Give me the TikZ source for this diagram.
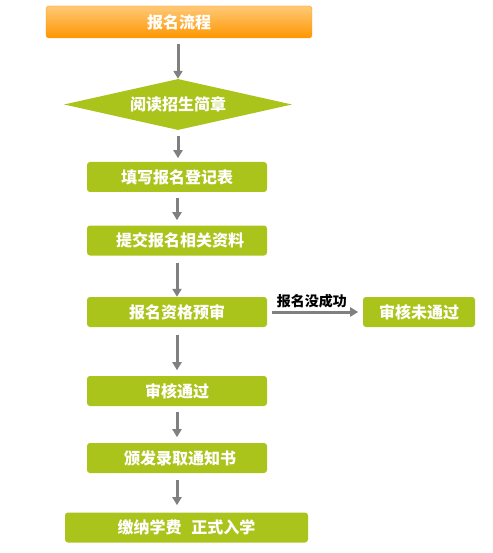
\documentclass[tikz,border=0pt]{standalone}
\usepackage{fontspec}
\newfontfamily\cjk{Noto Sans CJK SC}
\usetikzlibrary{arrows.meta, shapes.geometric}

\definecolor{stepgreen}{HTML}{AAC41C}
\definecolor{toporange}{HTML}{FFC978}
\definecolor{botorange}{HTML}{FF9600}
\definecolor{arrgray}{HTML}{808080}

\begin{document}
\begin{tikzpicture}[
  x=1pt, y=1pt,
  font=\cjk\fontsize{16}{18}\selectfont\bfseries,
  titlebox/.style={draw=botorange, rounded corners=3pt, top color=toporange, bottom color=botorange,
    text=white, minimum width=266pt, minimum height=32pt, inner sep=0pt},
  stepbox/.style={rounded corners=3pt, fill=stepgreen, text=white,
    minimum width=180pt, minimum height=30pt, inner sep=0pt},
  readbox/.style={shape=diamond, fill=stepgreen, text=white, aspect=4.47,
    minimum width=228pt, minimum height=51pt, inner sep=0pt},
  arr/.style={-{Triangle[length=8pt, width=9pt]}, line width=3pt, draw=arrgray},
  lbl/.style={font=\cjk\fontsize{14}{16}\selectfont\bfseries, text=black, inner sep=1pt}
]
  \useasboundingbox (0,0) rectangle (492,-553);

  % Kopf
  \node[titlebox] (title) at (179,-22) {报名流程};

  % Hauptablauf
  \node[readbox] (read) at (178,-104.5) {阅读招生简章};
  \node[stepbox] (fill) at (177,-177) {填写报名登记表};
  \node[stepbox] (submit) at (177,-240.5) {\hspace{6pt}提交报名相关资料};
  \node[stepbox] (precheck) at (177,-312) {报名资格预审};
  \node[stepbox] (passed) at (177,-391) {审核通过};
  \node[stepbox] (notice) at (177,-458) {\hspace{6pt}颁发录取通知书};
  \node[stepbox, minimum width=243pt] (enrol) at (186.5,-527.5) {缴纳学费\hspace{0.6em}正式入学};

  % Nebenzweig
  \node[stepbox, minimum width=112pt] (failed) at (419,-312) {审核未通过};

  % Pfeile
  \draw[arr] (178,-44) -- (read.north);
  \draw[arr] (read.south) ++(0,-6) coordinate (r1) (r1) -- ++(0,-22);
  \draw[arr] (fill.south) ++(0,-6) coordinate (f1) (f1) -- ++(0,-22);
  \draw[arr] (submit.south) ++(0,-7) coordinate (s1) (s1) -- (precheck.north);
  \draw[arr] (precheck.south) ++(0,-8) coordinate (p1) (p1) -- ++(0,-35);
  \draw[arr] (passed.south) ++(0,-6) coordinate (a1) (a1) -- ++(0,-25);
  \draw[arr] (notice.south) ++(0,-7) coordinate (n1) (n1) -- ++(0,-25);
  \draw[arr] (precheck.east) ++(5,0) coordinate (e1) (e1) -- ++(86,0)
    node[lbl, pos=0.46, above=1pt] {报名没成功};
\end{tikzpicture}
\end{document}
